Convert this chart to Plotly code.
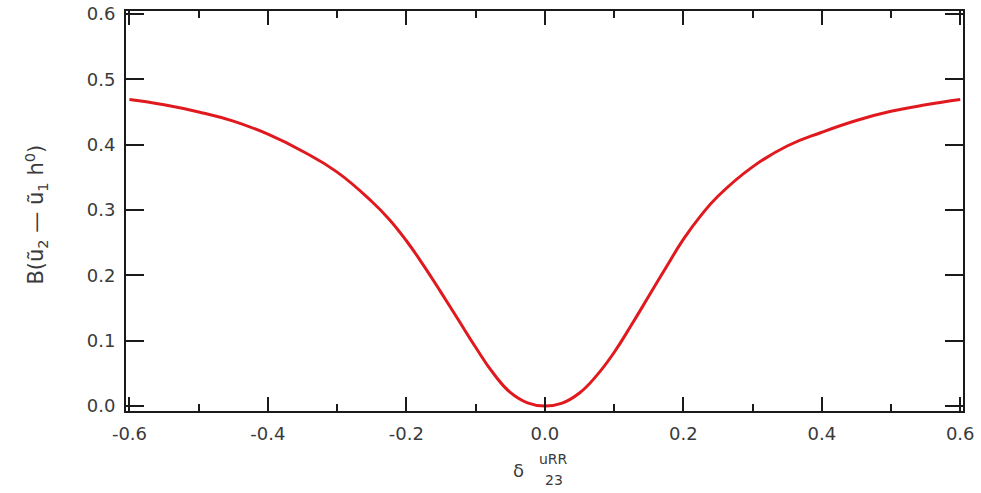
import plotly.graph_objects as go

# Data
delta_vals = [-0.6, -0.55, -0.5, -0.45, -0.4, -0.35, -0.3, -0.25, -0.225, -0.2, -0.175,
              -0.15, -0.125, -0.1, -0.075, -0.05, -0.025, 0.0, 0.025, 0.05, 0.075, 0.1,
              0.125, 0.15, 0.175, 0.2, 0.225, 0.25, 0.3, 0.35, 0.4, 0.45, 0.5, 0.55, 0.6]
b_vals = [0.469, 0.461, 0.450, 0.436, 0.416, 0.390, 0.358, 0.313, 0.286, 0.253, 0.215,
          0.174, 0.132, 0.090, 0.051, 0.021, 0.005, 0.0, 0.0045, 0.020, 0.047, 0.082,
          0.124, 0.168, 0.212, 0.255, 0.291, 0.321, 0.366, 0.398, 0.419, 0.437, 0.451,
          0.461, 0.469]

x_ticks = [-0.6, -0.4, -0.2, 0.0, 0.2, 0.4, 0.6]
x_tick_labels = ["-0.6", "-0.4", "-0.2", "0.0", "0.2", "0.4", "0.6"]
y_ticks = [0.0, 0.1, 0.2, 0.3, 0.4, 0.5, 0.6]
y_tick_labels = ["0.0", "0.1", "0.2", "0.3", "0.4", "0.5", "0.6"]

FONT = "DejaVu Sans"
TXT = "#3a3a3a"
AX = "#1a1a1a"

fig = go.Figure()
fig.add_trace(go.Scatter(
    x=delta_vals, y=b_vals, mode="lines",
    line=dict(color="#e0191e", width=3, shape="spline", smoothing=1.3),
    showlegend=False, hoverinfo="skip",
))

fig.update_layout(
    width=981, height=493,
    margin=dict(l=126, r=18, t=3, b=82),
    paper_bgcolor="white", plot_bgcolor="white",
    font=dict(family=FONT, size=18, color=TXT),
)

fig.update_xaxes(
    range=[-0.605, 0.604],
    tickmode="array", tickvals=x_ticks, ticktext=x_tick_labels,
    ticks="inside", ticklen=14, tickwidth=2, tickcolor=AX,
    minor=dict(dtick=0.1, ticks="inside", ticklen=7, tickwidth=2, tickcolor=AX),
    showline=True, linecolor=AX, linewidth=2, mirror="allticks",
    showgrid=False, zeroline=False,
    tickfont=dict(family=FONT, size=18, color=TXT),
    ticklabelstandoff=5, ticklabeloverflow="allow",
)
fig.update_yaxes(
    range=[-0.0075, 0.6045],
    tickmode="array", tickvals=y_ticks, ticktext=y_tick_labels,
    ticks="inside", ticklen=18, tickwidth=2, tickcolor=AX,
    showline=True, linecolor=AX, linewidth=2, mirror="allticks",
    showgrid=False, zeroline=False,
    tickfont=dict(family=FONT, size=18, color=TXT),
    ticklabelstandoff=5, ticklabeloverflow="allow",
)

# Axis titles
fig.add_annotation(
    text="B(ũ<sub>2</sub> — ũ<sub>1</sub> h<sup>0</sup>)",
    xref="paper", yref="paper", x=-0.108, y=0.49,
    xanchor="center", yanchor="middle",
    textangle=-90, showarrow=False,
    font=dict(family=FONT, size=21, color=TXT),
)
fig.add_annotation(text="δ", xref="paper", yref="paper", x=0.469, y=-0.15,
                   xanchor="center", yanchor="middle",
                   showarrow=False, font=dict(family=FONT, size=18, color=TXT))
fig.add_annotation(text="uRR", xref="paper", yref="paper", x=0.511, y=-0.121,
                   xanchor="center", yanchor="middle",
                   showarrow=False, font=dict(family=FONT, size=14, color=TXT))
fig.add_annotation(text="23", xref="paper", yref="paper", x=0.511, y=-0.173,
                   xanchor="center", yanchor="middle",
                   showarrow=False, font=dict(family=FONT, size=14, color=TXT))

fig.write_html("out.html", post_script="document.body.style.margin='0';",
               config={"displayModeBar": False})
